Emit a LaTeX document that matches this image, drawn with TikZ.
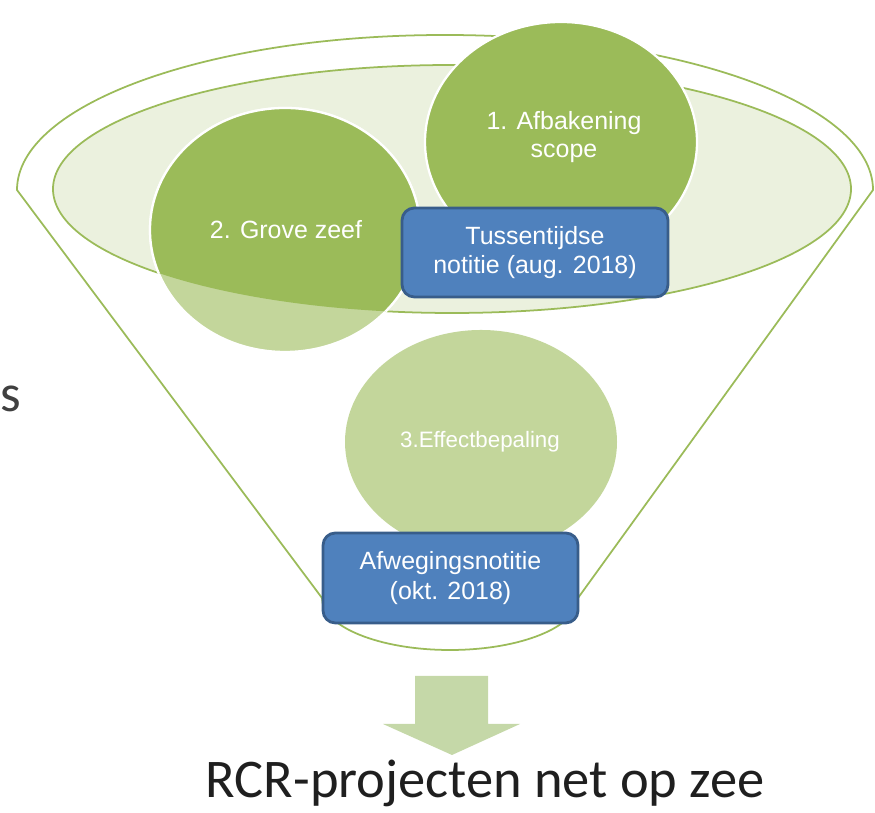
\documentclass[tikz,border=0pt]{standalone}
\usepackage{fontspec}
\setmainfont{Liberation Sans}
\newfontfamily\carlito{Carlito}
\definecolor{gr}{HTML}{9BBB59}
\definecolor{grl}{HTML}{C3D69B}
\definecolor{grbg}{HTML}{EBF1DE}
\definecolor{bl}{HTML}{4F81BD}
\definecolor{bld}{HTML}{385D8A}
\definecolor{arr}{HTML}{C5D8A8}
\begin{document}
\begin{tikzpicture}[x=0.02cm,y=0.02cm,
  lbl/.style={text=white, font=\fontsize{14.2}{16}\selectfont, align=center},
  notebox/.style={draw=bld, line width=1.6pt, fill=bl, rounded corners=7pt, text=white, align=center,
    font=\fontsize{14.2}{17}\selectfont, inner sep=0pt},
  bub/.style={draw=white, line width=1.3pt},
  funnelline/.style={draw=gr, line width=1pt}]
\useasboundingbox (0,0) rectangle (875,813);
% funnel outline
\draw[funnelline] (17,623) arc[start angle=180, end angle=0, x radius=428, y radius=155]
  -- (578,215) arc[start angle=0, end angle=-180, x radius=128, y radius=52] -- cycle;
% inner ellipse
\draw[funnelline, fill=grbg] (452,624) ellipse [x radius=399, y radius=124];
% circle 3
\fill[grl] (481,371) ellipse [x radius=136, y radius=112];
% circle 2
\path[bub, fill=grl] (285,583) ellipse [x radius=135, y radius=122];
\begin{scope}
  \clip (452,624) ellipse [x radius=399, y radius=124];
  \path[bub, fill=gr] (285,583) ellipse [x radius=135, y radius=122];
\end{scope}
% circle 1
\path[bub, fill=gr] (561,671) ellipse [x radius=136, y radius=120];
% labels in circles
\node[lbl] (c1) at (564,676) {1. Afbakening\\scope};
\node[lbl] (c2) at (286,583) {2. Grove zeef};
\node[lbl, font=\fontsize{12.7}{14}\selectfont] (c3) at (480,371) {3.Effectbepaling};
% boxes
\node[notebox, minimum width=5.32cm, minimum height=1.78cm] (b1) at (535,560.5) {Tussentijdse\\notitie (aug. 2018)};
\node[notebox, minimum width=5.1cm, minimum height=1.8cm] (b2) at (450.5,235) {Afwegingsnotitie\\(okt. 2018)};
% arrow
\fill[arr] (415,137) -- (488,137) -- (488,89) -- (520,89) -- (452,58) -- (383,89) -- (415,89) -- cycle;
% bottom text
\node[font=\carlito\fontsize{31}{35}\selectfont, text=black!88, anchor=base, inner sep=0pt] (res) at (485,15) {RCR-projecten net op zee};
\node[font=\carlito\fontsize{30}{34}\selectfont, text=black!75, anchor=base west, inner sep=0pt] (s) at (0,401) {s};
\end{tikzpicture}
\end{document}
